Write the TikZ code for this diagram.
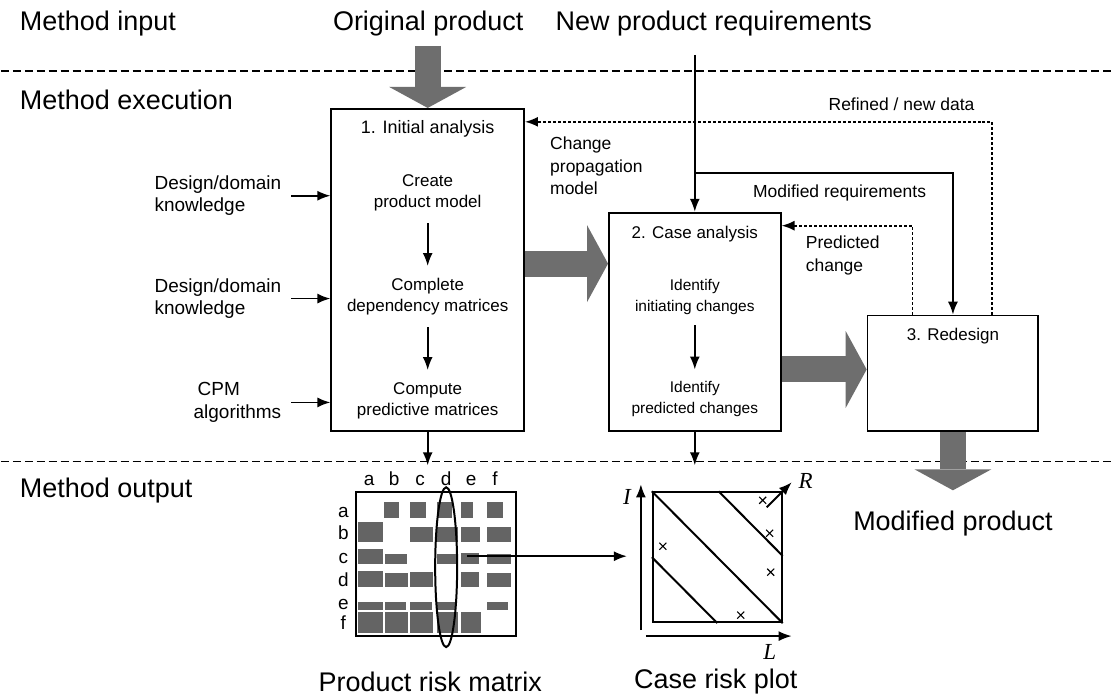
\documentclass[tikz,border=0pt]{standalone}
\usepackage{fontspec}
\setmainfont{Liberation Sans}
\newfontfamily\axisfont{Liberation Serif}
\usetikzlibrary{arrows.meta,calc,shapes.geometric}

\definecolor{bigc}{RGB}{110,110,110}
\definecolor{cellc}{RGB}{100,100,100}

\tikzset{
  box/.style={draw, line width=1.8pt, inner sep=0pt},
  lbl/.style={font=\fontsize{17.5}{23}\selectfont, align=left, inner sep=0pt},
  side/.style={font=\fontsize{19}{22.5}\selectfont, align=left, inner sep=0pt},
  stepa/.style={font=\fontsize{17}{21}\selectfont, align=center, inner sep=0pt},
  stepb/.style={font=\fontsize{15.5}{21}\selectfont, align=center, inner sep=0pt},
  ttla/.style={font=\fontsize{18}{22}\selectfont, inner sep=0pt},
  ttlb/.style={font=\fontsize{17}{21}\selectfont, inner sep=0pt},
  letter/.style={font=\fontsize{19}{22}\selectfont, inner sep=0pt, anchor=base},
  big/.style={font=\fontsize{27}{31}\selectfont, inner sep=0pt},
  axl/.style={font=\fontsize{23}{26}\axisfont\itshape, inner sep=0pt},
  arr/.style={-{Latex[length=13pt,width=10pt]}, line width=1.8pt},
  darr/.style={arr, dash pattern=on 3pt off 2pt},
  sepline/.style={line width=1.6pt, dash pattern=on 8pt off 4pt},
  bigarr/.style={draw=bigc, line width=26pt,
    -{Triangle[length=21pt,width=77pt,line width=0pt]}},
  cell/.style={fill=cellc},
  cross/.style={line width=1.1pt},
  plotline/.style={line width=2pt},
}

\begin{document}
\begin{tikzpicture}[x=1pt,y=-1pt]
\fill[white] (0,0) rectangle (1112,698);

% section separators
\draw[sepline] (0,71) -- (1112,71);
\draw[sepline] (0,462) -- (1112,462);

% section titles and inputs
\node[big, anchor=west] (mi) at (19,24) {Method input};
\node[big, anchor=west] (me) at (19,100) {Method execution};
\node[big, anchor=west] (mo) at (19,491) {Method output};
\node[big] (op) at (428,24) {Original product};
\node[big] (np) at (714,24) {New product requirements};

% process boxes
\node[box, minimum width=193pt, minimum height=323pt] (b1) at (427.5,270.5) {};
\node[box, minimum width=172pt, minimum height=219pt] (b2) at (695,322.5) {};
\node[box, minimum width=171pt, minimum height=116pt] (b3) at (953.5,374) {};

% step 1
\node[ttla] (t1) at (427.5,129) {1. Initial analysis};
\node[stepa] (s11) at (427.5,193) {Create\\product model};
\node[stepa] (s12) at (427.5,297) {Complete\\dependency matrices};
\node[stepa] (s13) at (427.5,401) {Compute\\predictive matrices};
\draw[arr, shorten <=12pt, shorten >=12pt] (s11) -- (s12);
\draw[arr, shorten <=12pt, shorten >=12pt] (s12) -- (s13);

% step 2
\node[ttlb] (t2) at (695,234) {2. Case analysis};
\node[stepb] (s21) at (695,297) {Identify\\initiating changes};
\node[stepb] (s22) at (695,400) {Identify\\predicted changes};
\draw[arr, shorten <=11pt, shorten >=12pt] (s21) -- (s22);

% step 3
\node[ttlb] (t3) at (953.5,337) {3. Redesign};

% knowledge inputs
\node[side, anchor=east] (k1) at (281,196) {Design/domain\\knowledge};
\node[side, anchor=east] (k2) at (281,299) {Design/domain\\knowledge};
\node[side, anchor=east] (k3) at (281,403) {\hspace*{4pt}CPM\\algorithms};
\draw[arr] ([xshift=10pt]k1.east) -- (k1.east -| b1.west);
\draw[arr] ([xshift=10pt]k2.east) -- (k2.east -| b1.west);
\draw[arr] ([xshift=10pt]k3.east) -- (k3.east -| b1.west);

% large flow arrows
\coordinate (oin) at (427.5,46);
\draw[bigarr] (oin) -- (b1.north);
\coordinate (m12) at (0,264);
\draw[bigarr] (b1.east |- m12) -- (b2.west |- m12);
\coordinate (m23) at (0,370);
\draw[bigarr] (b2.east |- m23) -- (b3.west |- m23);
\coordinate (mpt) at (953.5,491);
\draw[bigarr] (b3.south) -- (mpt);
\node[big] (mp) at (953.5,524) {Modified product};

% requirements
\coordinate (rq) at (695,55);
\coordinate (br) at (695,173);
\draw[arr] (rq) -- (b2.north);
\draw[arr] (br) -| (b3.north);
\node[lbl] (mr) at (840,193) {Modified requirements};

% feedback loops
\coordinate (rf) at (993,122);
\draw[darr] (b3.north -| rf) -- (rf) -- (rf -| b1.east);
\node[lbl] (rfl) at (902,104) {Refined / new data};
\node[lbl, anchor=west] (cpm) at (550,166) {Change\\propagation\\model};
\coordinate (pc) at (913,226);
\draw[darr] (b3.north -| pc) -- (pc) -- (pc -| b2.east);
\node[lbl, anchor=west] (pcl) at (806,256) {Predicted\\change};

% outputs from boxes
\coordinate (e1) at (427.5,466);
\coordinate (e2) at (695,466);
\draw[arr] (b1.south) -- (e1);
\draw[arr] (b2.south) -- (e2);

% product risk matrix
\fill[cell] (384,503) rectangle (399,519);
\fill[cell] (410,503) rectangle (426,519);
\fill[cell] (437,503) rectangle (452,519);
\fill[cell] (461,503) rectangle (473,519);
\fill[cell] (487,503) rectangle (503,519);
\fill[cell] (358,523) rectangle (383,543);
\fill[cell] (410,528) rectangle (433,543);
\fill[cell] (437,528) rectangle (458,543);
\fill[cell] (461,528) rectangle (480,543);
\fill[cell] (487,528) rectangle (511,543);
\fill[cell] (358,550) rectangle (383,565);
\fill[cell] (385,555) rectangle (407,565);
\fill[cell] (437,555) rectangle (458,565);
\fill[cell] (461,554) rectangle (479,565);
\fill[cell] (487,555) rectangle (511,565);
\fill[cell] (358,572) rectangle (383,588);
\fill[cell] (385,574) rectangle (408,588);
\fill[cell] (410,573) rectangle (433,588);
\fill[cell] (461,573) rectangle (479,588);
\fill[cell] (487,574) rectangle (511,588);
\fill[cell] (358,603) rectangle (383,611);
\fill[cell] (385,603) rectangle (406,611);
\fill[cell] (410,603) rectangle (432,611);
\fill[cell] (437,603) rectangle (455,611);
\fill[cell] (487,603) rectangle (508,611);
\fill[cell] (358,613) rectangle (383,634);
\fill[cell] (385,613) rectangle (408,634);
\fill[cell] (410,613) rectangle (433,634);
\fill[cell] (437,613) rectangle (458,634);
\fill[cell] (461,613) rectangle (481,634);
\node[draw, line width=1.8pt, minimum width=160pt, minimum height=144pt] (mx) at (436,565) {};
\foreach \l/\x in {a/369,b/394,c/420,d/446,e/471,f/495}
  \node[letter] (col\l) at (\x,486) {\l};
\foreach \l/\y in {a/518,b/540,c/564,d/587,e/610,f/630}
  \node[letter] (row\l) at (343,\y) {\l};
\node[draw, ellipse, line width=2pt, inner sep=0pt, minimum width=22pt, minimum height=160pt] (dcol) at (446,568) {};
\node[big] (prm) at (430,683) {Product risk matrix};

% case risk plot
\node[draw, plotline, inner sep=0pt, minimum width=129pt, minimum height=130pt] (pl) at (717.5,558) {};
\draw[plotline] (pl.north west) -- (pl.south east);
\draw[plotline] ($(pl.north west)!0.51!(pl.north east)$) -- ($(pl.north east)!0.49!(pl.south east)$);
\draw[plotline] ($(pl.north west)!0.5!(pl.south west)$) -- ($(pl.south west)!0.5!(pl.south east)$);
\coordinate (ms) at (467,557);
\coordinate (pe) at (627,557);
\draw[arr] (ms) -- (pe);
\coordinate (ya0) at (641,631);
\coordinate (ya1) at (641,485);
\coordinate (xa0) at (646,637);
\coordinate (xa1) at (792,637);
\coordinate (ra0) at (767,508);
\coordinate (ra1) at (792,483);
\draw[arr] (ya0) -- (ya1);
\draw[arr] (xa0) -- (xa1);
\draw[arr] (ra0) -- (ra1);
\node[axl] (lI) at (627,498) {I};
\node[axl] (lL) at (770,653) {L};
\node[axl] (lR) at (806,482) {R};
\foreach \x/\y in {763/501,770/534,663/547,771/573,741/616}
  \draw[cross] (\x,\y) +(-3.5,-3.5) -- +(3.5,3.5) (\x,\y) +(-3.5,3.5) -- +(3.5,-3.5);
\node[big] (crp) at (716,683) {Case risk plot};
\end{tikzpicture}
\end{document}
